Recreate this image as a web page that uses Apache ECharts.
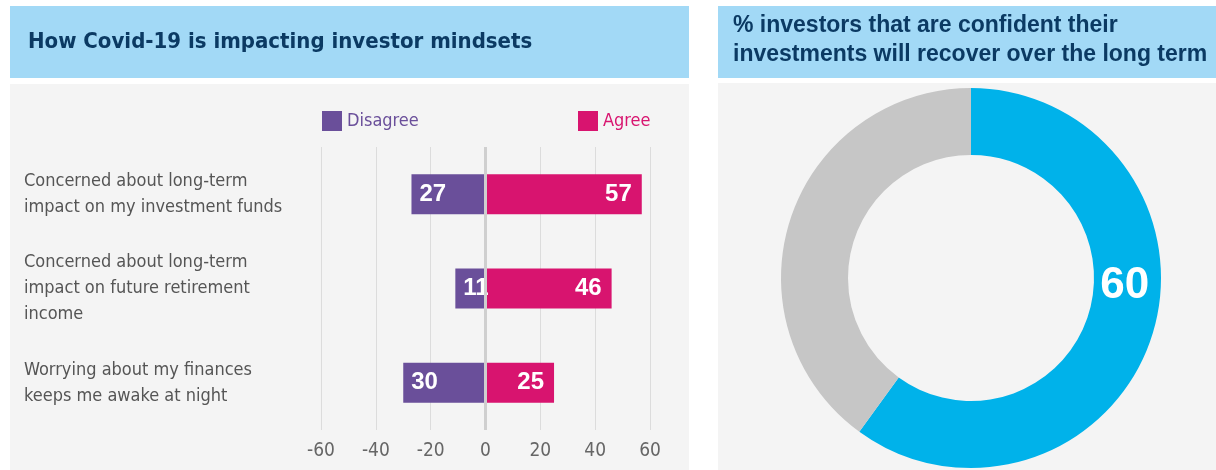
<!DOCTYPE html>
<html>
<head>
<meta charset="utf-8">
<script src="https://cdn.jsdelivr.net/npm/echarts@6/dist/echarts.min.js"></script>
<style>
  html, body { margin: 0; padding: 0; background: #fff; }
  #chart { width: 1216px; height: 470px; }
</style>
</head>
<body>
<div id="chart"></div>
<script>
// survey answers
var categories = [
    'Concerned about long-term\nimpact on my investment funds',
    'Concerned about long-term\nimpact on future retirement\nincome',
    'Worrying about my finances\nkeeps me awake at night'
];
var disagree = [27, 11, 30];
var agree = [57, 46, 25];
var xTicks = [-60, 60, 20]; // min, max, interval

// doughnut
var confidentNames = ['Confident', 'Not confident'];
var confidentValues = [60, 40];

var narrow = '"Liberation Sans Narrow", "DejaVu Sans Condensed", "Roboto", sans-serif';
var bold = '"Liberation Sans", Arial, sans-serif';

var chart = echarts.init(document.getElementById('chart'));
chart.setOption({
    animation: false,
    graphic: [
        { type: 'rect', shape: { x: 10, y: 6, width: 679, height: 72 }, style: { fill: '#a2d9f6' }, z: -10 },
        { type: 'rect', shape: { x: 10, y: 84, width: 679, height: 386 }, style: { fill: '#f4f4f4' }, z: -10 },
        { type: 'rect', shape: { x: 718, y: 6, width: 498, height: 72 }, style: { fill: '#a2d9f6' }, z: -10 },
        { type: 'rect', shape: { x: 718, y: 83, width: 498, height: 387 }, style: { fill: '#f4f4f4' }, z: -10 }
    ],
    title: [{
        text: 'How Covid-19 is impacting investor mindsets',
        left: 23,
        top: 26,
        textStyle: { fontFamily: narrow, fontWeight: 'bold', fontSize: 22, color: '#0b3a63' }
    }, {
        text: '% investors that are confident their\ninvestments will recover over the long term',
        left: 728,
        top: 6,
        textStyle: { fontFamily: bold, fontWeight: 'bold', fontSize: 23, lineHeight: 29, color: '#0b3a63' }
    }],
    legend: [{
        data: [{ name: 'Disagree', textStyle: { color: '#6a4f9a' } }],
        left: 317,
        top: 106,
        icon: 'rect',
        itemWidth: 20,
        itemHeight: 20,
        itemGap: 6,
        textStyle: { fontFamily: narrow, fontSize: 18 }
    }, {
        data: [{ name: 'Agree', textStyle: { color: '#d8146f' } }],
        left: 573,
        top: 106,
        icon: 'rect',
        itemWidth: 20,
        itemHeight: 20,
        textStyle: { fontFamily: narrow, fontSize: 18 }
    }],
    grid: { left: 321, right: 566, top: 147, bottom: 40 },
    xAxis: {
        type: 'value',
        min: xTicks[0],
        max: xTicks[1],
        interval: xTicks[2],
        axisLine: { show: false },
        axisTick: { show: false },
        axisLabel: { fontFamily: narrow, fontSize: 19, color: '#666', margin: 12 },
        splitLine: { lineStyle: { color: '#dcdcdc', width: 1 } }
    },
    yAxis: {
        type: 'category',
        data: categories,
        inverse: true,
        axisLine: { show: false },
        axisTick: { show: false },
        axisLabel: {
            align: 'left',
            margin: 297,
            fontFamily: narrow,
            fontSize: 18,
            lineHeight: 26,
            color: '#555'
        }
    },
    series: [{
        name: 'Disagree',
        type: 'bar',
        stack: 'total',
        barWidth: 40,
        data: disagree.map(function (v) { return -v; }),
        itemStyle: { color: '#6a4f9a' },
        label: {
            show: true,
            position: 'insideLeft',
            distance: 8,
            formatter: function (d) { return Math.abs(d.value); },
            fontFamily: bold,
            fontWeight: 'bold',
            fontSize: 24,
            color: '#fff'
        },
        markLine: {
            silent: true,
            symbol: 'none',
            label: { show: false },
            lineStyle: { color: '#cfcfcf', type: 'solid', width: 3 },
            data: [{ xAxis: 0 }]
        }
    }, {
        name: 'Agree',
        type: 'bar',
        stack: 'total',
        barWidth: 40,
        data: agree,
        itemStyle: { color: '#d8146f' },
        label: {
            show: true,
            position: 'insideRight',
            distance: 10,
            fontFamily: bold,
            fontWeight: 'bold',
            fontSize: 24,
            color: '#fff'
        }
    }, {
        type: 'pie',
        center: [971, 278],
        radius: [123, 190],
        startAngle: 90,
        silent: true,
        data: [{
            name: confidentNames[0],
            value: confidentValues[0],
            itemStyle: { color: '#00b2ea' },
            label: {
                show: true,
                position: 'inside',
                formatter: '{c}',
                offset: [2, -41],
                fontFamily: bold,
                fontWeight: 'bold',
                fontSize: 44,
                color: '#fff'
            }
        }, {
            name: confidentNames[1],
            value: confidentValues[1],
            itemStyle: { color: '#c6c6c6' },
            label: { show: false }
        }],
        labelLine: { show: false }
    }]
});
</script>
</body>
</html>
